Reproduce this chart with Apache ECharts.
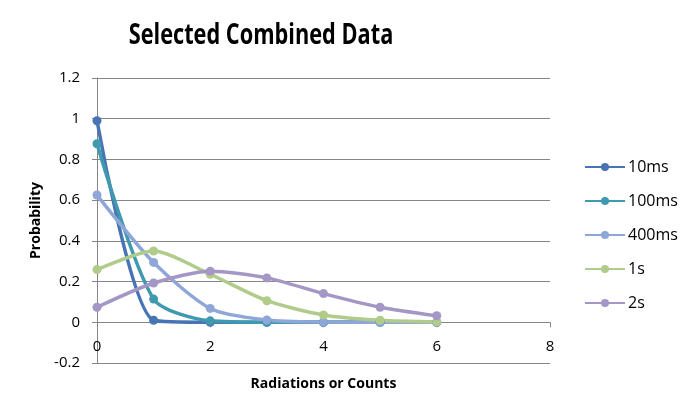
<!DOCTYPE html>
<html>
<head>
<meta charset="utf-8">
<script src="https://cdn.jsdelivr.net/npm/echarts@6/dist/echarts.min.js"></script>
<style>
html,body{margin:0;padding:0;background:#fff;}
#c{width:695px;height:407px;}
</style>
</head>
<body>
<div id="c"></div>
<script>
var xValues = [0, 1, 2, 3, 4, 5, 6];
var seriesNames = ['10ms', '100ms', '400ms', '1s', '2s'];
var s10ms  = [0.990, 0.010, 0.000, 0.000, 0.000, 0.000, 0.000];
var s100ms = [0.877, 0.114, 0.007, 0.000, 0.000, 0.000, 0.000];
var s400ms = [0.625, 0.294, 0.068, 0.011, 0.001, 0.000, 0.000];
var s1s    = [0.259, 0.350, 0.236, 0.106, 0.036, 0.010, 0.002];
var s2s    = [0.074, 0.193, 0.251, 0.218, 0.141, 0.074, 0.032];
var colors = ['#4774B5', '#3F9AB0', '#8EA6D8', '#B1CB8A', '#A497C6'];
var titleText = 'Selected Combined Data';

function pairs(arr){ return arr.map(function(v,i){ return [xValues[i], v]; }); }
var allData = [s10ms, s100ms, s400ms, s1s, s2s];

var font = 'Open Sans';
var gridTop = 78, gridBottom = 44, chartH = 407;
var yMin = -0.2, yMax = 1.2;
// shift of the x axis from the grid bottom up to the value 0
var zeroShift = (chartH - gridTop - gridBottom) * (0 - yMin) / (yMax - yMin);

var chart = echarts.init(document.getElementById('c'));
chart.setOption({
  animation: false,
  backgroundColor: '#fff',
  graphic: [{
    type: 'text', x: 261, y: 36, scaleX: 0.75, scaleY: 1,
    style: {text: titleText, textAlign: 'center', textVerticalAlign: 'middle',
      font: 'bold 29px "Open Sans"', fill: '#000'}
  }],
  legend: {
    orient: 'vertical',
    left: 579, top: 154,
    itemGap: 18,
    itemWidth: 40, itemHeight: 10,
    textStyle: {fontFamily: font, fontSize: 16, color: '#000', padding: [0,0,0,-2]},
    data: seriesNames
  },
  grid: {left: 97, right: 145, top: gridTop, bottom: gridBottom, containLabel: false, outerBoundsMode: 'none'},
  xAxis: {
    type: 'value', min: 0, max: 8, interval: 2,
    offset: -zeroShift,
    name: 'Radiations or Counts', nameLocation: 'middle', nameGap: 55,
    nameTextStyle: {fontFamily: font, fontWeight: 'bold', fontSize: 14, color: '#000'},
    axisLine: {onZero: false, lineStyle: {color: '#868686', width: 1}},
    axisTick: {show: true, length: 5, lineStyle: {color: '#868686'}},
    axisLabel: {fontFamily: font, fontSize: 15, color: '#000', margin: 17},
    splitLine: {show: false}
  },
  yAxis: {
    type: 'value', min: yMin, max: yMax, interval: 0.2,
    name: 'Probability', nameLocation: 'middle', nameGap: 54, nameRotate: 90,
    nameTextStyle: {fontFamily: font, fontWeight: 'bold', fontSize: 14, color: '#000'},
    axisLine: {show: true, onZero: false, lineStyle: {color: '#868686', width: 1}},
    axisTick: {show: true, length: 5, lineStyle: {color: '#868686'}},
    axisLabel: {fontFamily: font, fontSize: 15, color: '#000', margin: 17,
      formatter: function(v){ return String(Math.round(v*10)/10); }},
    splitLine: {show: true, lineStyle: {color: '#868686', width: 1}}
  },
  series: seriesNames.map(function(n, i){
    return {
      name: n, type: 'line', smooth: 0.25,
      data: pairs(allData[i]),
      symbol: 'circle', symbolSize: 9,
      lineStyle: {width: 3.5, color: colors[i]},
      itemStyle: {color: colors[i]},
      color: colors[i]
    };
  })
});
</script>
</body>
</html>
